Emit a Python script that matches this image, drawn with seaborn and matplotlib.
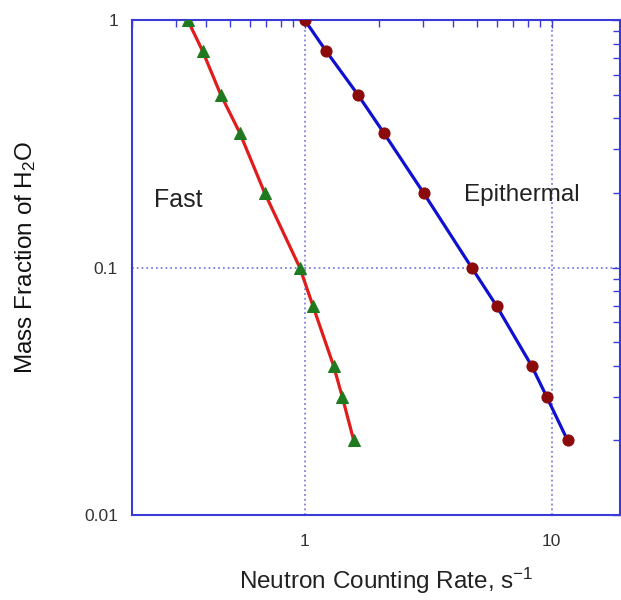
import matplotlib
matplotlib.use("Agg")
import matplotlib.pyplot as plt
import seaborn as sns
import pandas as pd
from matplotlib.ticker import LogLocator, FuncFormatter, NullFormatter

# Data
fast_rate = [0.336, 0.386, 0.457, 0.546, 0.689, 0.955, 1.08, 1.31, 1.42, 1.58]
fast_frac = [1.0, 0.75, 0.5, 0.35, 0.2, 0.1, 0.07, 0.04, 0.03, 0.02]
epi_rate = [1.0, 1.22, 1.64, 2.09, 3.03, 4.74, 5.98, 8.3, 9.55, 11.6]
epi_frac = [1.0, 0.75, 0.5, 0.35, 0.2, 0.1, 0.07, 0.04, 0.03, 0.02]
x_ticks = [1, 10]
y_ticks = [0.01, 0.1, 1]

sns.set_style("white")
plt.rcParams['font.family'] = ['Liberation Sans', 'DejaVu Sans']
plt.rcParams['mathtext.fontset'] = 'custom'
plt.rcParams['mathtext.rm'] = 'Liberation Sans'
plt.rcParams['mathtext.it'] = 'Liberation Sans'

fig = plt.figure(figsize=(6.21, 6.00), dpi=100)
ax = fig.add_axes([132/621, 85/600, 488/621, 495/600])

spine_col = "#3a3ad8"
grid_col = "#8080e0"

fast_df = pd.DataFrame({"rate": fast_rate, "frac": fast_frac})
epi_df = pd.DataFrame({"rate": epi_rate, "frac": epi_frac})

sns.lineplot(data=fast_df, x="rate", y="frac", ax=ax, sort=False, color="#e01c1c",
             lw=2.3, marker="^", markersize=8, markerfacecolor="#1f7a1f",
             markeredgecolor="#1f7a1f", zorder=3)
sns.lineplot(data=epi_df, x="rate", y="frac", ax=ax, sort=False, color="#1010d0",
             lw=2.3, marker="o", markersize=8, markerfacecolor="#8b0a0a",
             markeredgecolor="#8b0a0a", zorder=3)

ax.set_xscale("log")
ax.set_yscale("log")
ax.set_xlim(0.2, 18.9)
ax.set_ylim(0.01, 1)

ax.set_xticks(x_ticks)
ax.set_yticks(y_ticks)
ax.xaxis.set_major_formatter(FuncFormatter(lambda v, p: "%g" % v))
ax.yaxis.set_major_formatter(FuncFormatter(lambda v, p: "%g" % v))
ax.xaxis.set_minor_locator(LogLocator(base=10, subs=range(2, 10), numticks=20))
ax.yaxis.set_minor_locator(LogLocator(base=10, subs=range(2, 10), numticks=20))
ax.xaxis.set_minor_formatter(NullFormatter())
ax.yaxis.set_minor_formatter(NullFormatter())

ax.tick_params(which="both", direction="in", top=True, right=True, color=spine_col,
               labelcolor="#333333", labelsize=12.5)
ax.tick_params(axis="x", pad=14)
ax.tick_params(axis="y", pad=10)
ax.tick_params(which="major", length=6, width=1)
ax.tick_params(which="minor", length=5, width=1)

for s in ax.spines.values():
    s.set_color(spine_col)
    s.set_linewidth(1.5)

ax.grid(True, which="major", color=grid_col, linestyle=":", linewidth=1.3)
ax.set_axisbelow(True)

ax.text(0.309, 0.187, "Fast", fontsize=18, color="#222222", ha="center", va="center")
ax.text(7.56, 0.196, "Epithermal", fontsize=17.5, color="#222222", ha="center", va="center")

ax.set_xlabel("Neutron Counting Rate, s$^{-1}$", fontsize=17.5, color="#222222")
ax.xaxis.set_label_coords(0.52, -0.102)
ax.set_ylabel("Mass Fraction of H$_2$O", fontsize=17.5, color="#111111")
ax.yaxis.set_label_coords(-0.193, 0.52)

fig.savefig("out.png", dpi=100)
